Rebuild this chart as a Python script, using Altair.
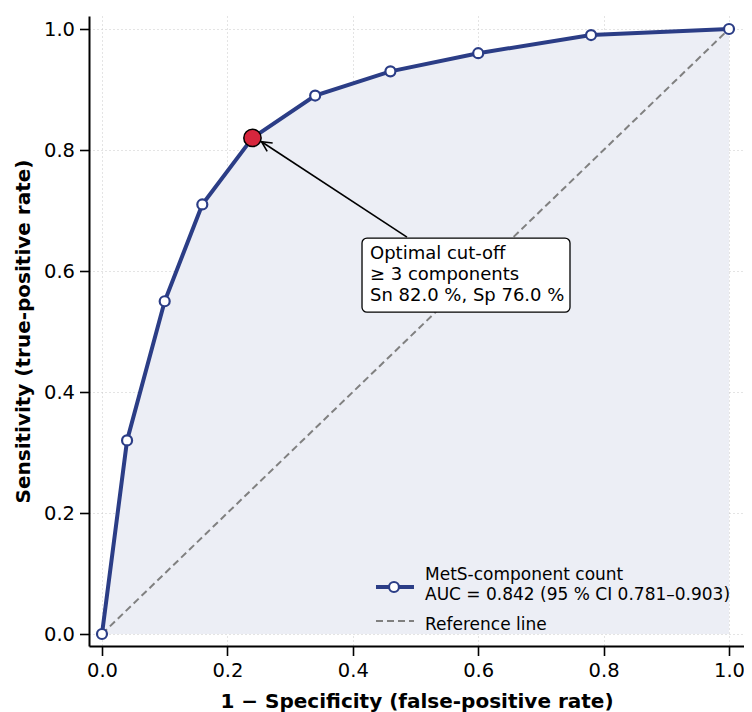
import math
import altair as alt
import pandas as pd

# ---- data ----
fpr = [0.0, 0.04, 0.10, 0.16, 0.24, 0.34, 0.46, 0.60, 0.78, 1.0]
tpr = [0.0, 0.32, 0.55, 0.71, 0.82, 0.89, 0.93, 0.96, 0.99, 1.0]
opt_fpr = [0.24]
opt_tpr = [0.82]
diag_x = [0.0, 1.0]
diag_y = [0.0, 1.0]
tick_values = [0.0, 0.2, 0.4, 0.6, 0.8, 1.0]
x_title = "1 − Specificity (false-positive rate)"
y_title = "Sensitivity (true-positive rate)"
ann_lines = ["Optimal cut-off", "≥ 3 components", "Sn 82.0 %, Sp 76.0 %"]
legend_curve_lines = ["MetS-component count", "AUC = 0.842 (95 % CI 0.781–0.903)"]
legend_ref_label = ["Reference line"]

# ---- layout / style ----
W, H = 655, 630
XDOM = [-0.0207, 1.0239]
YDOM = [-0.0198, 1.0215]
FONT = "DejaVu Sans"
NAVY = "#2b3d86"
FILL = "#eceef5"
RED = "#d7263d"
GREY = "#808080"

# annotation placement (data coordinates)
box_x, box_x2, box_y, box_y2 = 0.4147, 0.7464, 0.532, 0.6545
ann_text_x = 0.4274
ann_text_y = [0.6198, 0.5851, 0.5504]
arrow_tail = (0.4864, 0.656)
arrow_tip = (0.2545, 0.8137)

# legend placement (data coordinates)
leg_sym_x, leg_sym_x2, leg_circ_x = 0.437, 0.4976, 0.4657
leg_text_x = 0.5152
leg_curve_sym_y = 0.0777
leg_curve_text_y = [0.0893, 0.0562]
leg_ref_sym_y = 0.0215
leg_ref_text_y = [0.0066]

xscale = alt.Scale(domain=XDOM, nice=False, zero=False)
yscale = alt.Scale(domain=YDOM, nice=False, zero=False)


def X(field, axis=alt.Undefined):
    return alt.X(field, type="quantitative", scale=xscale, axis=axis)


def Y(field, axis=alt.Undefined):
    return alt.Y(field, type="quantitative", scale=yscale, axis=axis)


curve = pd.DataFrame({"x": fpr, "y": tpr})
diag = pd.DataFrame({"x": diag_x, "y": diag_y})
opt = pd.DataFrame({"x": opt_fpr, "y": opt_tpr})

x_axis = alt.Axis(values=tick_values, format=".1f", title=x_title, grid=True,
                  gridDash=[1, 3], gridColor="#c8c8c8", gridWidth=1,
                  titlePadding=11, labelPadding=6)
y_axis = alt.Axis(values=tick_values, format=".1f", title=y_title, grid=True,
                  gridDash=[1, 3], gridColor="#c8c8c8", gridWidth=1,
                  titlePadding=10, labelPadding=5)

area = alt.Chart(curve).mark_area(color=FILL, opacity=1).encode(
    x=X("x", x_axis), y=Y("y", y_axis), y2=alt.datum(0)
)

diag_line = alt.Chart(diag).mark_line(color=GREY, strokeWidth=2, strokeDash=[7, 4]).encode(
    x=X("x"), y=Y("y")
)

line = alt.Chart(curve).mark_line(color=NAVY, strokeWidth=4).encode(x=X("x"), y=Y("y"))

pts = alt.Chart(curve).mark_point(shape="circle", size=100, filled=True, fill="white",
                                   stroke=NAVY, strokeWidth=2.2, opacity=1).encode(
    x=X("x"), y=Y("y")
)

opt_pt = alt.Chart(opt).mark_point(shape="circle", size=300, filled=True, fill=RED,
                                    stroke="black", strokeWidth=1.5, opacity=1).encode(
    x=X("x"), y=Y("y")
)

# arrow
arr = pd.DataFrame({"x": [arrow_tail[0]], "y": [arrow_tail[1]],
                    "x2": [arrow_tip[0]], "y2": [arrow_tip[1]]})
arrow_line = alt.Chart(arr).mark_rule(color="black", strokeWidth=1.6).encode(
    x=X("x"), y=Y("y"), x2="x2", y2="y2"
)
dxp = (arrow_tip[0] - arrow_tail[0]) * W / (XDOM[1] - XDOM[0])
dyp = -(arrow_tip[1] - arrow_tail[1]) * H / (YDOM[1] - YDOM[0])
ang = math.degrees(math.atan2(dxp, -dyp)) % 360
head = pd.DataFrame({"x": [arrow_tip[0]], "y": [arrow_tip[1]]})
arrow_head = alt.Chart(head).mark_point(
    shape="M-0.5,1 L0,0 L0.5,1", size=400, filled=False, stroke="black",
    strokeWidth=1.6, angle=ang, opacity=1
).encode(x=X("x"), y=Y("y"))

# annotation box
box = pd.DataFrame({"x": [box_x], "x2": [box_x2], "y": [box_y], "y2": [box_y2]})
box_rect = alt.Chart(box).mark_rect(fill="white", stroke="black", strokeWidth=1.3,
                                    cornerRadius=5).encode(
    x=X("x"), x2="x2", y=Y("y"), y2="y2"
)
ann = pd.DataFrame({"x": [ann_text_x] * len(ann_lines), "y": ann_text_y, "t": ann_lines})
ann_text = alt.Chart(ann).mark_text(font=FONT, fontSize=18, align="left",
                                    baseline="alphabetic", color="black").encode(
    x=X("x"), y=Y("y"), text="t:N"
)

# legend
leg_line_df = pd.DataFrame({"x": [leg_sym_x], "x2": [leg_sym_x2], "y": [leg_curve_sym_y]})
leg_line = alt.Chart(leg_line_df).mark_rule(color=NAVY, strokeWidth=4).encode(
    x=X("x"), x2="x2", y=Y("y")
)
leg_circ = alt.Chart(pd.DataFrame({"x": [leg_circ_x], "y": [leg_curve_sym_y]})).mark_point(
    shape="circle", size=100, filled=True, fill="white", stroke=NAVY, strokeWidth=2.2, opacity=1
).encode(x=X("x"), y=Y("y"))
leg_ref_df = pd.DataFrame({"x": [leg_sym_x], "x2": [leg_sym_x2], "y": [leg_ref_sym_y]})
leg_ref = alt.Chart(leg_ref_df).mark_rule(color=GREY, strokeWidth=2, strokeDash=[7, 4]).encode(
    x=X("x"), x2="x2", y=Y("y")
)
leg_txt_df = pd.DataFrame({
    "x": [leg_text_x] * 3,
    "y": leg_curve_text_y + leg_ref_text_y,
    "t": legend_curve_lines + legend_ref_label,
})
leg_txt = alt.Chart(leg_txt_df).mark_text(font=FONT, fontSize=17, align="left",
                                          baseline="alphabetic", color="black").encode(
    x=X("x"), y=Y("y"), text="t:N"
)

chart = alt.layer(
    area, diag_line, line, pts, arrow_line, arrow_head, opt_pt, box_rect, ann_text,
    leg_line, leg_circ, leg_ref, leg_txt
).properties(
    width=W, height=H,
    autosize=alt.AutoSizeParams(type="none"),
    padding={"left": 81, "top": 8, "right": 0, "bottom": 66},
).configure_view(stroke=None).configure_axis(
    domainColor="black", domainWidth=2, tickColor="black", tickWidth=1.6, tickSize=9.5,
    labelFont=FONT, labelFontSize=19.5, labelColor="black",
    titleFont=FONT, titleFontSize=20, titleFontWeight="bold", titleColor="black",
    labelFlush=False, labelOverlap=False,
)

chart.save("out.html", embed_options={"renderer": "svg", "actions": False})
